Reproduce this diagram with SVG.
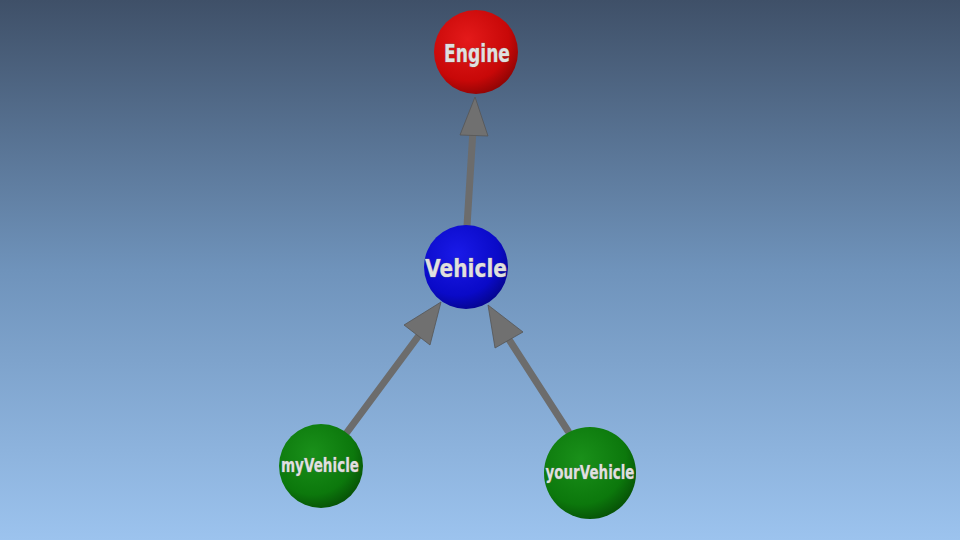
<svg xmlns="http://www.w3.org/2000/svg" width="960" height="540" viewBox="0 0 960 540">
<defs>
<linearGradient id="bg" x1="0" y1="0" x2="0" y2="1">
<stop offset="0" stop-color="#3f5068"/>
<stop offset="0.5" stop-color="#6f93bb"/>
<stop offset="1" stop-color="#9cc3ee"/>
</linearGradient>
<radialGradient id="red" cx="0.4" cy="0.35" r="0.7">
<stop offset="0" stop-color="#e41a1a"/>
<stop offset="0.7" stop-color="#c80808"/>
<stop offset="1" stop-color="#8a0404"/>
</radialGradient>
<radialGradient id="blue" cx="0.4" cy="0.35" r="0.7">
<stop offset="0" stop-color="#1a1ae8"/>
<stop offset="0.7" stop-color="#0a0ac8"/>
<stop offset="1" stop-color="#05058a"/>
</radialGradient>
<radialGradient id="green" cx="0.4" cy="0.35" r="0.7">
<stop offset="0" stop-color="#1a901a"/>
<stop offset="0.7" stop-color="#0c780c"/>
<stop offset="1" stop-color="#064e06"/>
</radialGradient>
<style>
.lbl{font-family:"DejaVu Sans","Liberation Sans",sans-serif;font-weight:bold;fill:#e0e0e0;stroke:#7a7a7a;stroke-width:0.7;paint-order:stroke}
.shaft{stroke:#6c6c6c;stroke-width:7;stroke-linecap:round}
.head{fill:#707070;stroke:#555;stroke-width:0.8}
</style>
</defs>
<rect width="960" height="540" fill="url(#bg)"/>
<g id="connectors">
<g id="e1">
<line class="shaft" x1="467" y1="226" x2="473" y2="130"/>
<polygon class="head" points="475,97 460,135 488,136"/>
</g>
<g id="e2">
<line class="shaft" x1="345" y1="435" x2="420" y2="334"/>
<polygon class="head" points="441,302 404,325 430,345"/>
</g>
<g id="e3">
<line class="shaft" x1="568" y1="431" x2="508" y2="338"/>
<polygon class="head" points="488,305 495,348 523,332"/>
</g>
</g>
<g id="n-engine">
<circle cx="476" cy="52" r="42" fill="url(#red)"/>
<text class="lbl" x="477" y="62" font-size="25" text-anchor="middle" textLength="66" lengthAdjust="spacingAndGlyphs">Engine</text>
</g>
<g id="n-vehicle">
<circle cx="466" cy="267" r="42" fill="url(#blue)"/>
<text class="lbl" x="466" y="277" font-size="25" text-anchor="middle" textLength="82" lengthAdjust="spacingAndGlyphs">Vehicle</text>
</g>
<g id="n-myvehicle">
<circle cx="321" cy="466" r="42" fill="url(#green)"/>
<text class="lbl" x="320" y="472" font-size="19" text-anchor="middle" textLength="78" lengthAdjust="spacingAndGlyphs">myVehicle</text>
</g>
<g id="n-yourvehicle">
<circle cx="590" cy="473" r="46" fill="url(#green)"/>
<text class="lbl" x="590" y="479" font-size="20" text-anchor="middle" textLength="89" lengthAdjust="spacingAndGlyphs">yourVehicle</text>
</g>
</svg>
